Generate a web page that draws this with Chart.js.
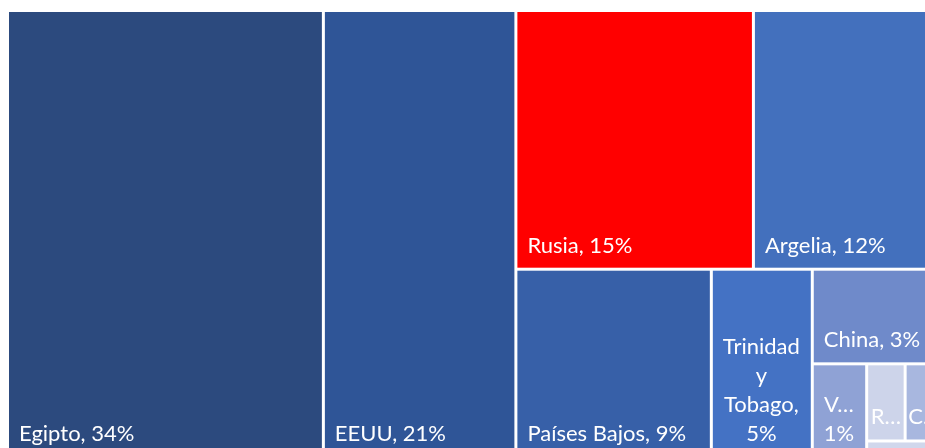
<!DOCTYPE html>
<html>
<head>
<meta charset="utf-8">
<script src="https://cdn.jsdelivr.net/npm/chart.js@4.4.1/dist/chart.umd.min.js"></script>
<style>
    html, body { margin: 0; padding: 0; background: #fff; overflow: hidden; }
    #wrap { position: absolute; left: 0; top: 0; width: 945px; height: 460px; }
</style>
</head>
<body>
<div id="wrap"><canvas id="treemap" width="945" height="460"></canvas></div>
<script>
// ── Data (shares in %) ────────────────────────────────────────────────────────
const countries  = ['Egipto', 'EEUU', 'Rusia', 'Argelia', 'Países Bajos', 'Trinidad y Tobago', 'China', 'V…', 'R…', 'C…', ''];
const shares     = [33.8, 20.6, 14.71, 11.71, 8.81, 4.55, 2.95, 1.22, 0.71, 0.69, 0.30];
const cellColors = ['#2C4A7E', '#2F5597', '#FF0000', '#4370BD', '#3760A8', '#4472C4', '#6F8ACA', '#8FA2D5', '#CDD4EA', '#A8B7DF', '#D0D7EC'];

const LABEL_FONT = '22px Lato';
const LINE_H = 29;
const GAP = 3;

// strip cost: tall cells are preferred over wide ones (labels read horizontally)
function cellCost(w, h) {
    return h >= w ? h / w : 2 * w / h;
}

function stripCost(vals, sum, x, y, w, h, total) {
    const columnStrip = w >= h;
    const thick = (columnStrip ? w : h) * sum / total;
    const len = columnStrip ? h : w;
    let worst = 0;
    vals.forEach(v => {
        const l = len * v / sum;
        const c = columnStrip ? cellCost(thick, l) : cellCost(l, thick);
        if (c > worst) worst = c;
    });
    return worst;
}

// squarified-style layout, in abstract units (w x h)
function layoutCells(idx, x, y, w, h, out) {
    if (!idx.length) return;
    const total = idx.reduce((s, i) => s + shares[i], 0);
    let row = [idx[0]];
    let rowSum = shares[idx[0]];
    let k = 1;
    while (k < idx.length) {
        const cur = stripCost(row.map(i => shares[i]), rowSum, x, y, w, h, total);
        const nextRow = row.concat(idx[k]);
        const nextSum = rowSum + shares[idx[k]];
        const nxt = stripCost(nextRow.map(i => shares[i]), nextSum, x, y, w, h, total);
        if (nxt > cur) break;
        row = nextRow; rowSum = nextSum; k++;
    }
    const columnStrip = w >= h;
    if (columnStrip) {
        const thick = w * rowSum / total;
        let cy = y;
        row.forEach(i => {
            const l = h * shares[i] / rowSum;
            out.push({ i, x0: x, y0: cy, x1: x + thick, y1: cy + l });
            cy += l;
        });
        layoutCells(idx.slice(k), x + thick, y, w - thick, h, out);
    } else {
        const thick = h * rowSum / total;
        let cx = x;
        row.forEach(i => {
            const l = w * shares[i] / rowSum;
            out.push({ i, x0: cx, y0: y, x1: cx + l, y1: y + thick });
            cx += l;
        });
        layoutCells(idx.slice(k), x, y + thick, w, h - thick, out);
    }
}

function wrapWords(ctx, text, maxW) {
    const words = text.split(' ');
    const lines = [];
    let cur = '';
    words.forEach(word => {
        const test = cur ? cur + ' ' + word : word;
        if (!cur || ctx.measureText(test).width <= maxW) cur = test;
        else { lines.push(cur); cur = word; }
    });
    if (cur) lines.push(cur);
    return lines;
}

const treemapPlugin = {
    id: 'treemapCells',
    afterDatasetsDraw(chart) {
        const ctx = chart.ctx;
        const xs = chart.scales.x, ys = chart.scales.y;
        const area = chart.chartArea;
        const W = area.right - area.left, H = area.bottom - area.top;
        const order = shares.map((v, i) => i).sort((a, b) => shares[b] - shares[a]);
        const cells = [];
        layoutCells(order, 0, 0, W, H, cells);
        const total = shares.reduce((s, v) => s + v, 0);

        cells.forEach(c => {
            const px0 = xs.getPixelForValue(c.x0 / W) + GAP / 2;
            const px1 = xs.getPixelForValue(c.x1 / W) - GAP / 2;
            const py0 = ys.getPixelForValue(c.y0 / H) + GAP / 2;
            const py1 = ys.getPixelForValue(c.y1 / H) - GAP / 2;
            const w = px1 - px0, h = py1 - py0;
            ctx.fillStyle = cellColors[c.i];
            ctx.fillRect(px0, py0, w, h);

            const name = countries[c.i];
            if (!name) return;
            const pct = Math.round(shares[c.i] / total * 100) + '%';
            const text = name.endsWith('…') ? name + ' ' + pct : name + ', ' + pct;
            ctx.save();
            ctx.beginPath();
            ctx.rect(px0, py0, w, h);
            ctx.clip();
            ctx.font = LABEL_FONT;
            ctx.fillStyle = '#ffffff';
            ctx.textBaseline = 'alphabetic';
            let lines = wrapWords(ctx, text, w - 12);
            const fit = Math.max(1, Math.floor((h - 47) / LINE_H) + 1);
            if (lines.length > fit) lines = lines.slice(0, fit);
            const widths = lines.map(l => ctx.measureText(l).width);
            const blockW = Math.max(...widths);
            const left = blockW + 20 <= w ? px0 + 10 : px0 + (w - blockW) / 2;
            const lastBase = py1 - 15;
            lines.forEach((l, n) => {
                const base = lastBase - (lines.length - 1 - n) * LINE_H;
                ctx.fillText(l, left + (blockW - widths[n]) / 2, base);
            });
            ctx.restore();
        });
    }
};

new Chart(document.getElementById('treemap').getContext('2d'), {
    type: 'scatter',
    data: { datasets: [{ data: [] }] },
    options: {
        responsive: false,
        animation: false,
        layout: { padding: { left: 7.5, top: 10.5, right: 2.5, bottom: 2.5 } },
        plugins: { legend: { display: false }, tooltip: { enabled: false } },
        scales: {
            x: { type: 'linear', min: 0, max: 1, display: false },
            y: { type: 'linear', min: 0, max: 1, reverse: true, display: false }
        }
    },
    plugins: [treemapPlugin]
});
</script>
</body>
</html>
